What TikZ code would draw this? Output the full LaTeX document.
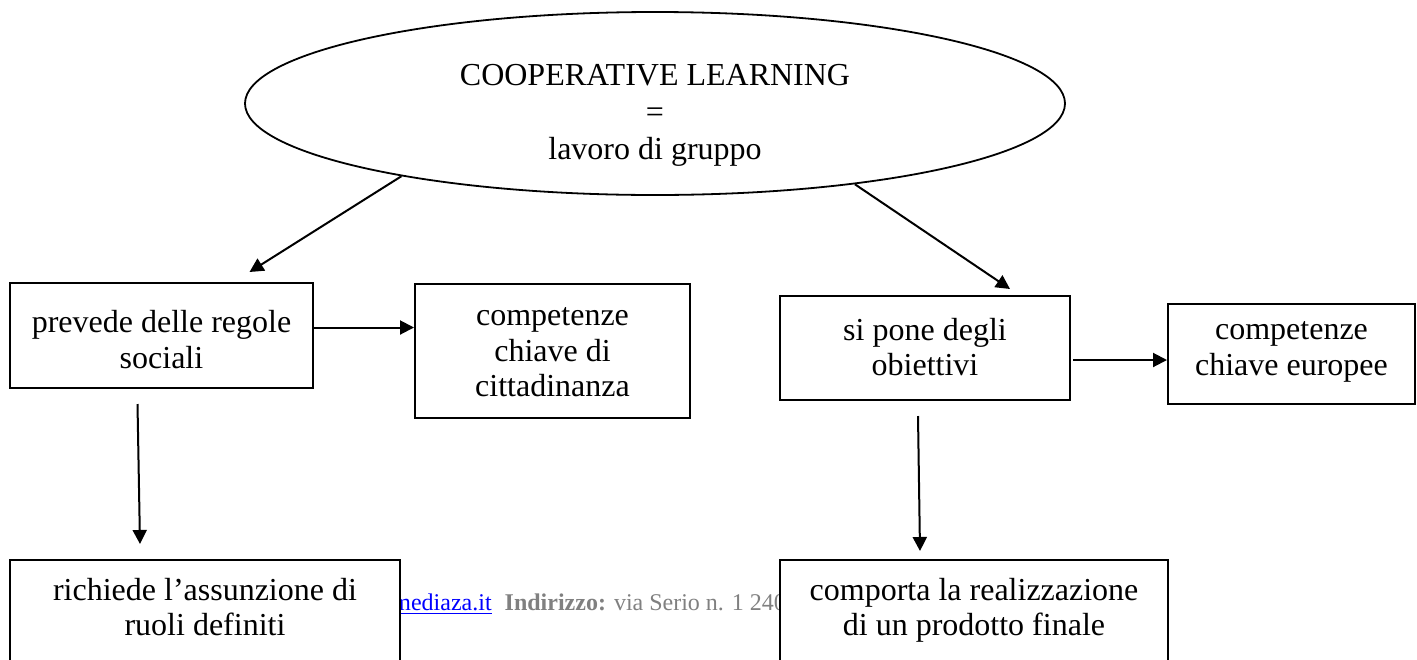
\documentclass[tikz,border=0pt]{standalone}
\usepackage{fontspec}
\setmainfont{Liberation Serif}
\usetikzlibrary{arrows.meta,calc,shapes.geometric}
\definecolor{Ink}{HTML}{000000}
\definecolor{FootGray}{HTML}{808080}
\definecolor{LinkBlue}{HTML}{0000FF}
\newcommand\mapfont{\fontsize{16}{17.75}\selectfont}
\newcommand\footfont{\fontsize{12}{14}\selectfont}
\newcommand\lowerby[1]{\rule{0pt}{#1}}
\tikzset{
  conceptbox/.style={draw=Ink,fill=white,line width=1pt,align=center,font=\mapfont,text=Ink,inner sep=0pt,
    execute at begin node={\strut},execute at end node={\strut}},
  rootellipse/.style={draw=Ink,ellipse,line width=0.9pt,inner sep=0pt,minimum width=410pt,minimum height=91.5pt},
  roottext/.style={align=center,font=\fontsize{16}{18.5}\selectfont,text=Ink,inner sep=0pt,
    execute at begin node={\strut},execute at end node={\strut}},
  footline/.style={anchor=base west,font=\footfont,text=FootGray,inner sep=0pt},
  link/.style={-{Triangle[length=7pt,width=7pt]},draw=Ink,line width=1pt}
}
\begin{document}
\begin{tikzpicture}[x=0.5pt,y=-0.5pt]
  \useasboundingbox (0,0) rectangle (1417,659);
  % concept at the top
  \node[rootellipse] (root) at (655,103.5) {};
  \node[roottext] (roottxt) at (655,117) {COOPERATIVE LEARNING\\=\\lavoro di gruppo};
  % left branch
  \node[conceptbox,minimum width=151.5pt,minimum height=52.5pt] (regole) at (161.5,335.5) {\lowerby{20.4pt}prevede delle regole\\sociali};
  \node[conceptbox,minimum width=137.5pt,minimum height=67pt] (cittad) at (552.5,351) {\lowerby{15.4pt}competenze\\chiave di\\cittadinanza};
  % right branch
  \node[conceptbox,minimum width=145pt,minimum height=52pt] (obiettivi) at (925,348) {\lowerby{15.4pt}si pone degli\\obiettivi};
  \node[conceptbox,minimum width=123.5pt,minimum height=50pt] (europee) at (1291.5,354) {competenze\\chiave europee};
  % footer of the page, behind the lower boxes
  \node[footline] (sito) at (392,610) {\textcolor{LinkBlue}{\underline{mediaza.it}}\hspace{6.5pt}\textbf{Indirizzo:} via Serio n. 1 240};
  % lower boxes (cut by the page edge)
  \node[conceptbox,minimum width=195pt,minimum height=52pt] (ruoli) at (205,612) {richiede l’assunzione di\\ruoli definiti};
  \node[conceptbox,minimum width=194pt,minimum height=52pt] (prodotto) at (974,612) {comporta la realizzazione\\di un prodotto finale};
  \draw[link] (root.196.7) -- ([xshift=44pt,yshift=5pt]regole.north);
  \draw[link] (root.338.1) -- ([xshift=42.5pt,yshift=3pt]obiettivi.north);
  \draw[link] ([yshift=4pt]regole.east) -- ([yshift=4pt]regole.east -| cittad.west);
  \draw[link] ([xshift=1pt,yshift=-6pt]obiettivi.east) -- ([yshift=-6pt]obiettivi.east -| europee.west);
  \draw[link] ([xshift=-12pt,yshift=-7.5pt]regole.south) -- ([xshift=-32.5pt,yshift=7.5pt]ruoli.north);
  \draw[link] ([xshift=-3.5pt,yshift=-7.5pt]obiettivi.south) -- ([xshift=-27pt,yshift=4pt]prodotto.north);
\end{tikzpicture}
\end{document}
